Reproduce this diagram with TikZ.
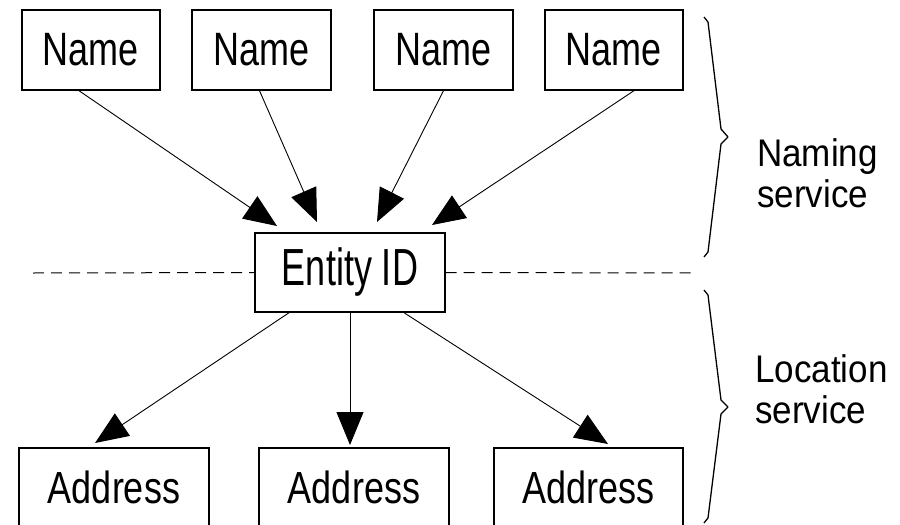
\documentclass[tikz,border=0pt]{standalone}
\usepackage{fontspec}
\setmainfont{Liberation Sans}
\usetikzlibrary{arrows.meta,calc}
\newcommand{\vstr}[2][1.3]{\scalebox{1}[#1]{#2}}
\newcommand{\twolines}[2]{\scalebox{1}[1.1]{\begin{tabular}[t]{@{}l@{}}#1\\#2\end{tabular}}}
\begin{document}
\begin{tikzpicture}[x=1pt,y=-1pt,
  box/.style={draw, line width=1.4pt, inner sep=0pt, minimum height=80pt,
    font=\fontsize{36}{40}\selectfont},
  arr/.style={line width=0.9pt, -{Triangle[length=33pt,width=27pt]}},
  sepline/.style={dash pattern=on 11pt off 7pt, line width=1pt},
  brc/.style={line width=1.3pt, line join=round},
  lbl/.style={font=\fontsize{35}{38}\selectfont, inner sep=0pt, anchor=base west}]
\useasboundingbox (0,0) rectangle (900,525);
% name boxes
\node[box, minimum width=138pt] (n1) at (91,50) {\vstr{Name}};
\node[box, minimum width=139pt] (n2) at (261.5,50) {\vstr{Name}};
\node[box, minimum width=139pt] (n3) at (443.5,50) {\vstr{Name}};
\node[box, minimum width=138pt] (n4) at (614,50) {\vstr{Name}};
% entity
\node[box, minimum width=190pt, minimum height=79pt] (e) at (350,272.5) {\vstr[1.45]{Entity ID}};
% address boxes
\node[box, minimum width=190pt, minimum height=78pt] (a1) at (114,487) {\vstr[1.25]{Address}};
\node[box, minimum width=190pt, minimum height=78pt] (a2) at (354,487) {\vstr[1.25]{Address}};
\node[box, minimum width=189pt, minimum height=78pt] (a3) at (588.5,487) {\vstr[1.25]{Address}};
% arrow tips
\coordinate (t1) at (277,226);
\coordinate (t2) at (317,222);
\coordinate (t3) at (377,222);
\coordinate (t4) at (432,225);
\coordinate (u1) at (95,443);
\coordinate (u2) at (350,445);
\coordinate (u3) at (608,444);
\draw[arr] ([xshift=-12pt]n1.south) -- (t1);
\draw[arr] ([xshift=-2pt]n2.south) -- (t2);
\draw[arr] (n3.south) -- (t3);
\draw[arr] ([xshift=20pt]n4.south) -- (t4);
\draw[arr] ([xshift=-61pt]e.south) -- (u1);
\draw[arr] (e.south) -- (u2);
\draw[arr] ([xshift=54pt]e.south) -- (u3);
% dashed separator
\coordinate (dl) at (33,273);
\coordinate (dr) at (695,273);
\draw[sepline] (dl) -- (e.west);
\draw[sepline] (e.east) -- (dr);
% braces
\draw[brc] (704,17) -- (708,22) -- (721,129) -- (728,137) -- (721,144) -- (708,252) -- (704,257);
\draw[brc] (704,290) -- (708,295) -- (721,400) -- (728,407) -- (721,414) -- (708,518) -- (704,523);
% labels
\node[lbl] (ln) at (757,166) {\twolines{Naming}{service}};
\node[lbl] (ll) at (755,382) {\twolines{Location}{service}};
\end{tikzpicture}
\end{document}
